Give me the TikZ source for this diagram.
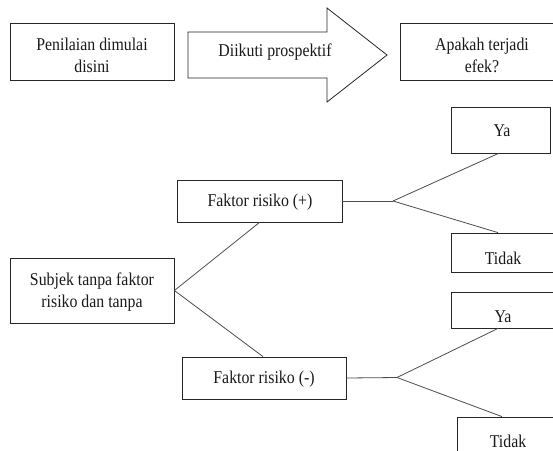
\documentclass[tikz,border=0pt]{standalone}
\usepackage{fontspec}
\setmainfont{Liberation Serif}[FakeStretch=0.88]
\usetikzlibrary{calc}
\tikzset{
  box/.style={draw=black!85, line width=0.8pt, rectangle, inner sep=0pt, fill=white},
  lbl/.style={inner sep=0pt, align=center, font=\fontsize{18}{22}\selectfont, text=black!90},
  conn/.style={draw=black!70, line width=0.8pt},
}
\begin{document}
\begin{tikzpicture}[x=1pt,y=-1pt]
\useasboundingbox (0,0) rectangle (553,450);
\clip (0,0) rectangle (553,450);
\fill[white] (0,0) rectangle (553,450);
% top row
\node[box, minimum width=164pt, minimum height=57pt] (start) at (92,51.5) {};
\node[lbl] (startt) at (92,55) {Penilaian dimulai\\disini};
\draw[box] (188,32) -- (327,32) -- (327,8) -- (387,55) -- (327,102) -- (327,78) -- (188,78) -- cycle;
\node[lbl] (arrowt) at (275,52) {Diikuti prospektif};
\node[box, minimum width=164pt, minimum height=57pt] (effect) at (482,51.5) {};
\node[lbl] (effectt) at (482,55) {Apakah terjadi\\efek?};
% tree
\node[box, minimum width=164pt, minimum height=65pt] (subj) at (92,290.5) {};
\node[lbl] (subjt) at (92,292.5) {Subjek tanpa faktor\\risiko dan tanpa};
\node[box, minimum width=165pt, minimum height=42pt] (fp) at (259.5,201) {};
\node[lbl] (fpt) at (260,202) {Faktor risiko (+)};
\node[box, minimum width=164pt, minimum height=42pt] (fm) at (264,378) {};
\node[lbl] (fmt) at (264,379) {Faktor risiko (-)};
\node[box, minimum width=99pt, minimum height=46pt] (ya1) at (500.5,130) {};
\node[lbl] (ya1t) at (502,131) {Ya};
\node[box, minimum width=104pt, minimum height=39pt] (td1) at (503,252.5) {};
\node[lbl] (td1t) at (503,258) {Tidak};
\node[box, minimum width=104pt, minimum height=36pt] (ya2) at (503,310) {};
\node[lbl] (ya2t) at (503,317) {Ya};
\node[box, minimum width=140pt, minimum height=44pt] (td2) at (527,439) {};
\node[lbl] (td2t) at (508,441) {Tidak};
\coordinate (k1) at (393,201);
\coordinate (k2) at (397,377.5);
\draw[conn] (subj.east) -- (fp.south);
\draw[conn] (subj.east) -- ($(fm.north)+(-1,0)$);
\draw[conn] (fp.east) -- (k1);
\draw[conn] (k1) -- ($(ya1.south)+(-2,0)$);
\draw[conn] (k1) -- ($(td1.north)+(-5,0)$);
\draw[conn] (fm.east) -- (k2);
\draw[conn] (k2) -- ($(ya2.south)+(-5,0)$);
\draw[conn] (k2) -- ($(td2.north)+(-25,0)$);
\end{tikzpicture}
\end{document}
